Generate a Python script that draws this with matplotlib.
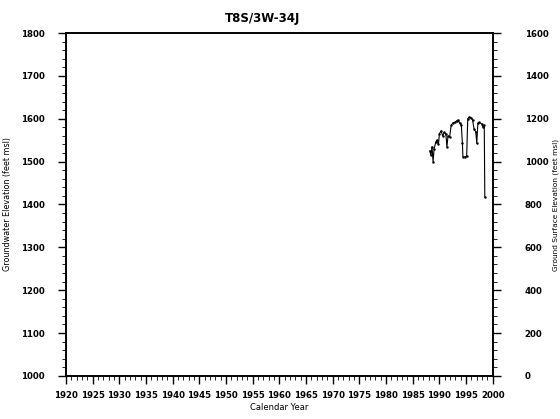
import matplotlib
matplotlib.use("Agg")
import matplotlib.pyplot as plt
from matplotlib.ticker import MultipleLocator

# Well hydrograph: measured groundwater elevations
years = [1988.2, 1988.4, 1988.6, 1988.8, 1989.0, 1989.3, 1989.5, 1989.8,
         1990.0, 1990.3, 1990.6, 1990.9, 1991.2, 1991.4, 1991.6, 1991.9,
         1992.2, 1992.5, 1992.9, 1993.2, 1993.5, 1993.8, 1994.1, 1994.3,
         1994.4, 1994.8, 1995.1, 1995.3, 1995.6, 1995.9, 1996.2, 1996.5,
         1996.8, 1997.0, 1997.2, 1997.5, 1997.9, 1998.2, 1998.4, 1998.5]
elev = [1525, 1515, 1535, 1500, 1530, 1545, 1550, 1540,
        1565, 1572, 1560, 1568, 1565, 1534, 1560, 1557,
        1585, 1590, 1592, 1595, 1597, 1590, 1585, 1543,
        1511, 1511, 1512, 1600, 1604, 1603, 1598, 1575,
        1570, 1543, 1590, 1592, 1588, 1580, 1585, 1418]

x_ticks = list(range(1920, 2001, 5))
left_ticks = list(range(1000, 1801, 100))
right_ticks = list(range(0, 1601, 200))

title = "T8S/3W-34J"
xlabel = "Calendar Year"
left_label = "Groundwater Elevation (feet msl)"
right_label = "Ground Surface Elevation (feet msl)"

fig = plt.figure(figsize=(5.6, 4.19), dpi=100)
ax = fig.add_axes([0.118, 0.103, 0.762, 0.818])

ax.plot(years, elev, color="black", lw=0.8, marker=".", ms=1.5)

ax.set_xlim(x_ticks[0], x_ticks[-1])
ax.set_ylim(left_ticks[0], left_ticks[-1])
ax.set_xticks(x_ticks)
ax.set_yticks(left_ticks)
ax.xaxis.set_minor_locator(MultipleLocator(1))
ax.yaxis.set_minor_locator(MultipleLocator(20))
ax.tick_params(axis="x", which="major", direction="out", length=6,
               width=1, labelsize=6.2, pad=5)
ax.tick_params(axis="y", which="major", direction="out", length=6,
               width=1, labelsize=6.2, pad=9.5)
ax.tick_params(axis="both", which="minor", direction="out", length=3,
               width=0.6)
for lab in ax.get_xticklabels() + ax.get_yticklabels():
    lab.set_fontweight("bold")

ax.set_title(title, fontsize=8.5, fontweight="bold", pad=8, x=0.46)
ax.set_xlabel(xlabel, fontsize=6, labelpad=2)
ax.set_ylabel(left_label, fontsize=5.8, labelpad=6.5)

ax2 = ax.twinx()
ax2.set_ylim(right_ticks[0], right_ticks[-1])
ax2.set_yticks(right_ticks)
ax2.yaxis.set_minor_locator(MultipleLocator(40))
ax2.tick_params(axis="y", which="major", direction="out", length=6,
                width=1, labelsize=6.2, pad=17)
ax2.tick_params(axis="y", which="minor", direction="out", length=3,
                width=0.6)
for lab in ax2.get_yticklabels():
    lab.set_fontweight("bold")
ax2.set_ylabel(right_label, fontsize=5.3, labelpad=3)

for a in (ax, ax2):
    for s in a.spines.values():
        s.set_linewidth(1.2)

fig.savefig("out.png", dpi=100)
